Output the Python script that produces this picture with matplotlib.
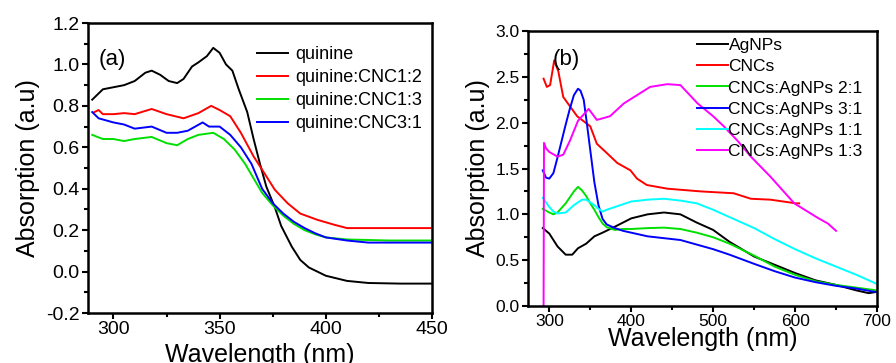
import matplotlib
matplotlib.use("Agg")
import matplotlib.pyplot as plt
from matplotlib.ticker import MultipleLocator

plt.rcParams["font.family"] = ["Liberation Sans", "DejaVu Sans"]

# ---- panel (a): quinine / CNC mixtures ----
wl_quinine = [290, 295, 300, 305, 310, 315, 318, 322, 326, 330, 333, 337, 340, 344, 347,
              350, 353, 356, 359, 363, 366, 369, 372, 376, 379, 384, 388, 392, 396, 400,
              404, 410, 420, 435, 450]
abs_quinine = [0.83, 0.88, 0.89, 0.90, 0.92, 0.96, 0.97, 0.95, 0.92, 0.91, 0.93, 0.99, 1.01, 1.04, 1.08,
               1.056, 1.00, 0.97, 0.88, 0.77, 0.64, 0.52, 0.41, 0.31, 0.22, 0.12, 0.056, 0.02, 0.0, -0.02,
               -0.03, -0.045, -0.055, -0.058, -0.058]

wl_cnc12 = [291, 293, 295, 300, 305, 310, 318, 325, 333, 340, 346, 350, 355, 360, 366,
            371, 376, 382, 388, 396, 404, 410, 420, 435, 450]
abs_cnc12 = [0.77, 0.78, 0.76, 0.76, 0.765, 0.76, 0.785, 0.76, 0.74, 0.765, 0.80, 0.78, 0.75, 0.67, 0.556,
             0.476, 0.395, 0.33, 0.28, 0.25, 0.226, 0.21, 0.21, 0.21, 0.21]

wl_cnc13 = [290, 295, 300, 305, 310, 318, 325, 330, 335, 340, 347, 352, 357, 362, 366,
            370, 375, 380, 385, 390, 395, 400, 410, 430, 450]
abs_cnc13 = [0.66, 0.64, 0.64, 0.63, 0.64, 0.65, 0.62, 0.61, 0.64, 0.66, 0.67, 0.64, 0.59, 0.52, 0.45,
             0.38, 0.32, 0.27, 0.23, 0.20, 0.18, 0.165, 0.155, 0.15, 0.15]

wl_cnc31 = [290, 293, 300, 305, 310, 318, 325, 330, 335, 342, 345, 350, 355, 360, 365,
            370, 375, 380, 385, 390, 395, 400, 410, 420, 450]
abs_cnc31 = [0.77, 0.74, 0.72, 0.71, 0.69, 0.70, 0.67, 0.67, 0.68, 0.72, 0.70, 0.70, 0.66, 0.60, 0.52,
             0.40, 0.33, 0.28, 0.24, 0.21, 0.185, 0.165, 0.15, 0.14, 0.14]

# ---- panel (b): AgNPs / CNCs mixtures ----
wl_agnps = [292, 300, 310, 320, 328, 335, 345, 355, 365, 380, 400, 420, 440, 460, 480,
            500, 520, 550, 575, 600, 625, 650, 675, 690, 700]
abs_agnps = [0.85, 0.79, 0.65, 0.56, 0.56, 0.63, 0.68, 0.76, 0.80, 0.865, 0.956, 1.00, 1.02, 1.00, 0.91,
             0.83, 0.70, 0.54, 0.45, 0.36, 0.28, 0.23, 0.17, 0.14, 0.155]

wl_cncs = [293, 297, 301, 306, 311, 317, 334, 350, 358, 370, 383, 399, 407, 419, 444,
           485, 525, 546, 570, 601, 605]
abs_cncs = [2.48, 2.39, 2.41, 2.68, 2.56, 2.28, 2.07, 1.96, 1.77, 1.67, 1.56, 1.48, 1.39, 1.32, 1.28,
            1.25, 1.23, 1.17, 1.16, 1.12, 1.12]

wl_21 = [292, 300, 305, 310, 320, 330, 335, 340, 345, 350, 355, 360, 365, 370, 380,
         390, 400, 420, 440, 460, 480, 500, 520, 550, 575, 600, 625, 650, 675, 700]
abs_21 = [1.06, 1.02, 1.00, 1.02, 1.12, 1.25, 1.30, 1.26, 1.20, 1.12, 1.05, 0.97, 0.90, 0.86, 0.83,
          0.84, 0.84, 0.85, 0.855, 0.84, 0.80, 0.75, 0.68, 0.55, 0.43, 0.34, 0.27, 0.23, 0.20, 0.17]

wl_31 = [292, 296, 300, 305, 310, 315, 320, 325, 330, 335, 338, 342, 345, 350, 355,
         360, 365, 370, 380, 390, 400, 420, 440, 460, 480, 500, 520, 550, 575, 600,
         625, 650, 675, 700]
abs_31 = [1.48, 1.40, 1.39, 1.45, 1.62, 1.80, 1.98, 2.15, 2.30, 2.37, 2.35, 2.25, 2.05, 1.70, 1.35,
          1.10, 0.95, 0.89, 0.85, 0.82, 0.80, 0.76, 0.74, 0.72, 0.67, 0.62, 0.56, 0.46, 0.38, 0.31,
          0.26, 0.22, 0.19, 0.15]

wl_11 = [292, 300, 305, 310, 320, 330, 340, 345, 350, 355, 360, 365, 370, 380, 390,
         400, 420, 440, 460, 480, 500, 520, 550, 575, 600, 625, 650, 675, 690, 700]
abs_11 = [1.18, 1.08, 1.03, 1.01, 1.02, 1.10, 1.16, 1.16, 1.13, 1.10, 1.06, 1.03, 1.05, 1.08, 1.11,
          1.14, 1.16, 1.17, 1.15, 1.12, 1.05, 0.97, 0.85, 0.73, 0.62, 0.52, 0.43, 0.34, 0.28, 0.24]

wl_13 = [293, 293.5, 296, 300, 310, 317, 325, 335, 348, 358, 374, 391, 407, 423, 444,
         460, 481, 500, 513, 530, 546, 570, 599, 628, 640, 650]
abs_13 = [0.0, 1.78, 1.72, 1.68, 1.63, 1.65, 1.80, 2.02, 2.15, 2.03, 2.07, 2.21, 2.30, 2.39, 2.42,
          2.41, 2.21, 2.07, 1.96, 1.80, 1.63, 1.41, 1.12, 0.96, 0.90, 0.82]

LW = 1.4


def style_axes(ax, tick_size):
    for sp in ax.spines.values():
        sp.set_linewidth(1.8)
    ax.tick_params(which="both", direction="out", width=1.5, labelsize=tick_size,
                   top=False, right=False, pad=2)
    ax.tick_params(which="major", length=4)
    ax.tick_params(which="minor", length=3)


fig = plt.figure(figsize=(8.96, 3.63), dpi=100)

# panel (a)
ax1 = fig.add_axes([0.0982, 0.1377, 0.3839, 0.7989])
ax1.plot(wl_quinine, abs_quinine, color="black", lw=LW, label="quinine")
ax1.plot(wl_cnc12, abs_cnc12, color="#ff0000", lw=LW, label="quinine:CNC1:2")
ax1.plot(wl_cnc13, abs_cnc13, color="#00e000", lw=LW, label="quinine:CNC1:3")
ax1.plot(wl_cnc31, abs_cnc31, color="#0000ff", lw=LW, label="quinine:CNC3:1")
ax1.set_xlim(288, 450)
ax1.set_ylim(-0.2, 1.2)
ax1.xaxis.set_major_locator(MultipleLocator(50))
ax1.xaxis.set_minor_locator(MultipleLocator(25))
ax1.yaxis.set_major_locator(MultipleLocator(0.2))
ax1.yaxis.set_minor_locator(MultipleLocator(0.1))
ax1.yaxis.set_major_formatter(plt.FuncFormatter(lambda v, p: f"{v:.1f}"))
style_axes(ax1, 14)
ax1.set_xlabel("Wavelength (nm)", fontsize=18, labelpad=3)
ax1.set_ylabel("Absorption (a.u)", fontsize=18, labelpad=4)
ax1.text(0.03, 0.855, "(a)", transform=ax1.transAxes, fontsize=16)
ax1.legend(loc="upper left", bbox_to_anchor=(0.47, 0.945), frameon=False, fontsize=13,
           handlelength=1.75, handletextpad=0.4, labelspacing=0.33, borderaxespad=0)

# panel (b)
ax2 = fig.add_axes([0.5893, 0.157, 0.3895, 0.7576])
ax2.plot(wl_agnps, abs_agnps, color="black", lw=LW, label="AgNPs")
ax2.plot(wl_cncs, abs_cncs, color="#ff0000", lw=LW, label="CNCs")
ax2.plot(wl_21, abs_21, color="#00e000", lw=LW, label="CNCs:AgNPs 2:1")
ax2.plot(wl_31, abs_31, color="#0000ff", lw=LW, label="CNCs:AgNPs 3:1")
ax2.plot(wl_11, abs_11, color="#00ffff", lw=LW, label="CNCs:AgNPs 1:1")
ax2.plot(wl_13, abs_13, color="#ff00ff", lw=LW, label="CNCs:AgNPs 1:3")
ax2.set_xlim(274, 700)
ax2.set_ylim(0, 3.0)
ax2.xaxis.set_major_locator(MultipleLocator(100))
ax2.xaxis.set_minor_locator(MultipleLocator(50))
ax2.yaxis.set_major_locator(MultipleLocator(0.5))
ax2.yaxis.set_minor_locator(MultipleLocator(0.25))
ax2.yaxis.set_major_formatter(plt.FuncFormatter(lambda v, p: f"{v:.1f}"))
style_axes(ax2, 12.5)
ax2.set_xlabel("Wavelength (nm)", fontsize=18, labelpad=-2)
ax2.set_ylabel("Absorption (a.u)", fontsize=18, labelpad=4)
ax2.text(0.07, 0.875, "(b)", transform=ax2.transAxes, fontsize=16)
ax2.legend(loc="upper left", bbox_to_anchor=(0.465, 1.0), frameon=False, fontsize=12.5,
           handlelength=1.75, handletextpad=0.05, labelspacing=0.35, borderaxespad=0)

fig.savefig("out.png", dpi=100)
